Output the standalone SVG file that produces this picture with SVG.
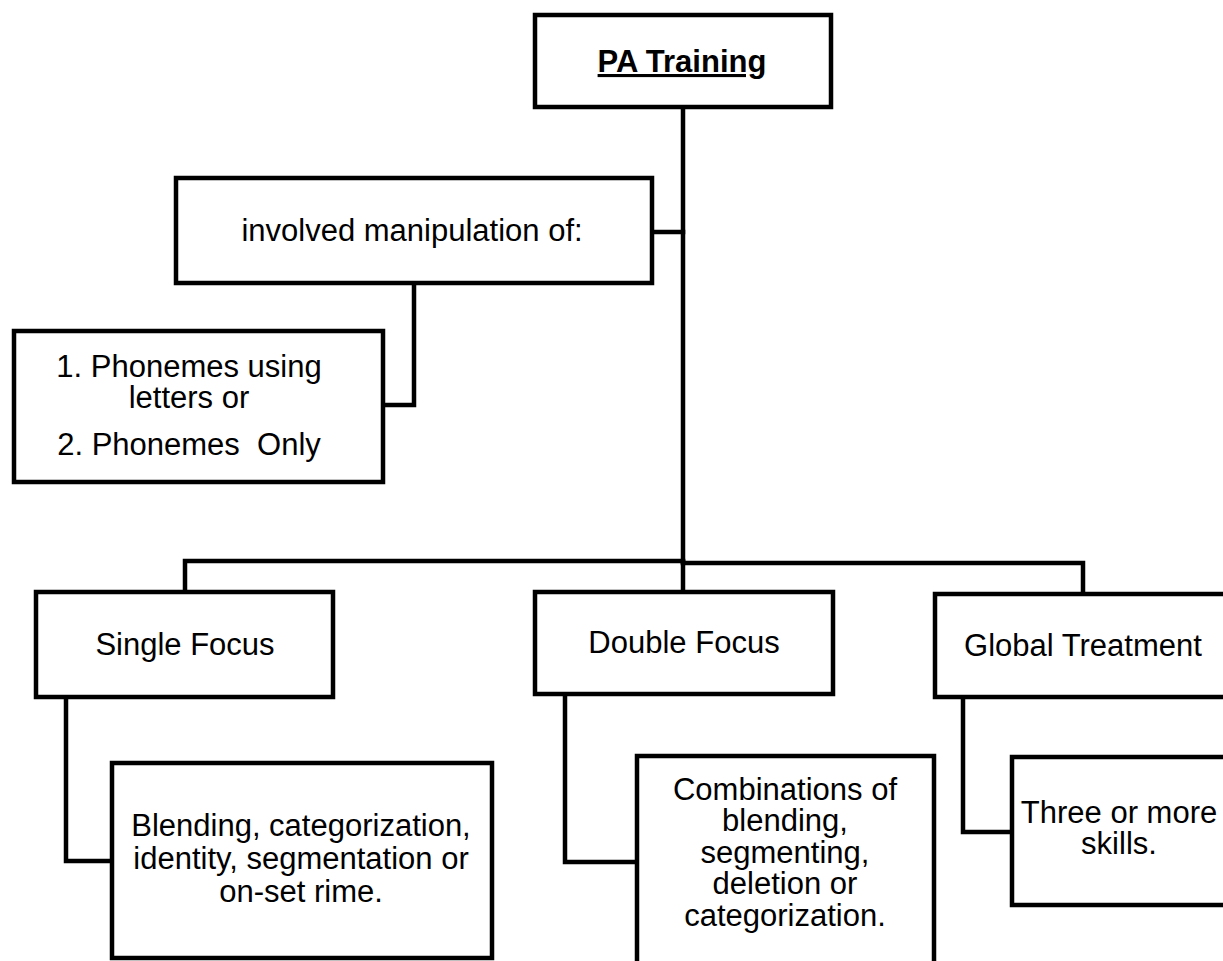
<svg xmlns="http://www.w3.org/2000/svg" width="1223" height="961" viewBox="0 0 1223 961">
<style>
.box{fill:#fff;stroke:#000;stroke-width:4.5;stroke-linejoin:miter}
.ln{fill:none;stroke:#000;stroke-width:4.5;stroke-linejoin:miter;stroke-linecap:square}
text{font-family:"Liberation Sans",Arial,sans-serif;font-size:31px;fill:#000;text-anchor:middle}
.b{font-weight:bold;text-decoration:underline}
</style>
<rect width="1223" height="961" fill="#fff"/>
<g id="connectors">
<path class="ln" d="M683,107 V562"/>
<path class="ln" d="M652,232 H683"/>
<path class="ln" d="M414,283 V405 H383"/>
<path class="ln" d="M185,592 V561 H683"/>
<path class="ln" d="M683,563 H1083 V594"/>
<path class="ln" d="M683,562 V592"/>
<path class="ln" d="M66,697 V861 H112"/>
<path class="ln" d="M565,694 V862 H637"/>
<path class="ln" d="M963,697 V832 H1012"/>
</g>
<g id="pa-training">
<rect class="box" x="535" y="15" width="296" height="92"/>
<text class="b" x="682" y="72">PA Training</text>
</g>
<g id="involved">
<rect class="box" x="176" y="178" width="476" height="105"/>
<text x="412" y="241">involved manipulation of:</text>
</g>
<g id="phonemes">
<rect class="box" x="14" y="331" width="369" height="151"/>
<text x="189" y="377">1. Phonemes using</text>
<text x="189" y="408">letters or</text>
<text x="189" y="455" xml:space="preserve">2. Phonemes  Only</text>
</g>
<g id="single-focus">
<rect class="box" x="36" y="592" width="297" height="105"/>
<text x="185" y="655">Single Focus</text>
</g>
<g id="double-focus">
<rect class="box" x="535" y="592" width="298" height="102"/>
<text x="684" y="653">Double Focus</text>
</g>
<g id="global-treatment">
<rect class="box" x="935" y="594" width="300" height="103"/>
<text x="1083" y="656">Global Treatment</text>
</g>
<g id="single-detail">
<rect class="box" x="112" y="763" width="380" height="195"/>
<text x="301" y="836">Blending, categorization,</text>
<text x="301" y="869">identity, segmentation or</text>
<text x="301" y="902">on-set rime.</text>
</g>
<g id="double-detail">
<rect class="box" x="637" y="756" width="297" height="230"/>
<text x="785" y="800">Combinations of</text>
<text x="785" y="831">blending,</text>
<text x="785" y="863">segmenting,</text>
<text x="785" y="894">deletion or</text>
<text x="785" y="926">categorization.</text>
</g>
<g id="global-detail">
<rect class="box" x="1012" y="757" width="220" height="148"/>
<text x="1119" y="823">Three or more</text>
<text x="1119" y="854">skills.</text>
</g>
</svg>
